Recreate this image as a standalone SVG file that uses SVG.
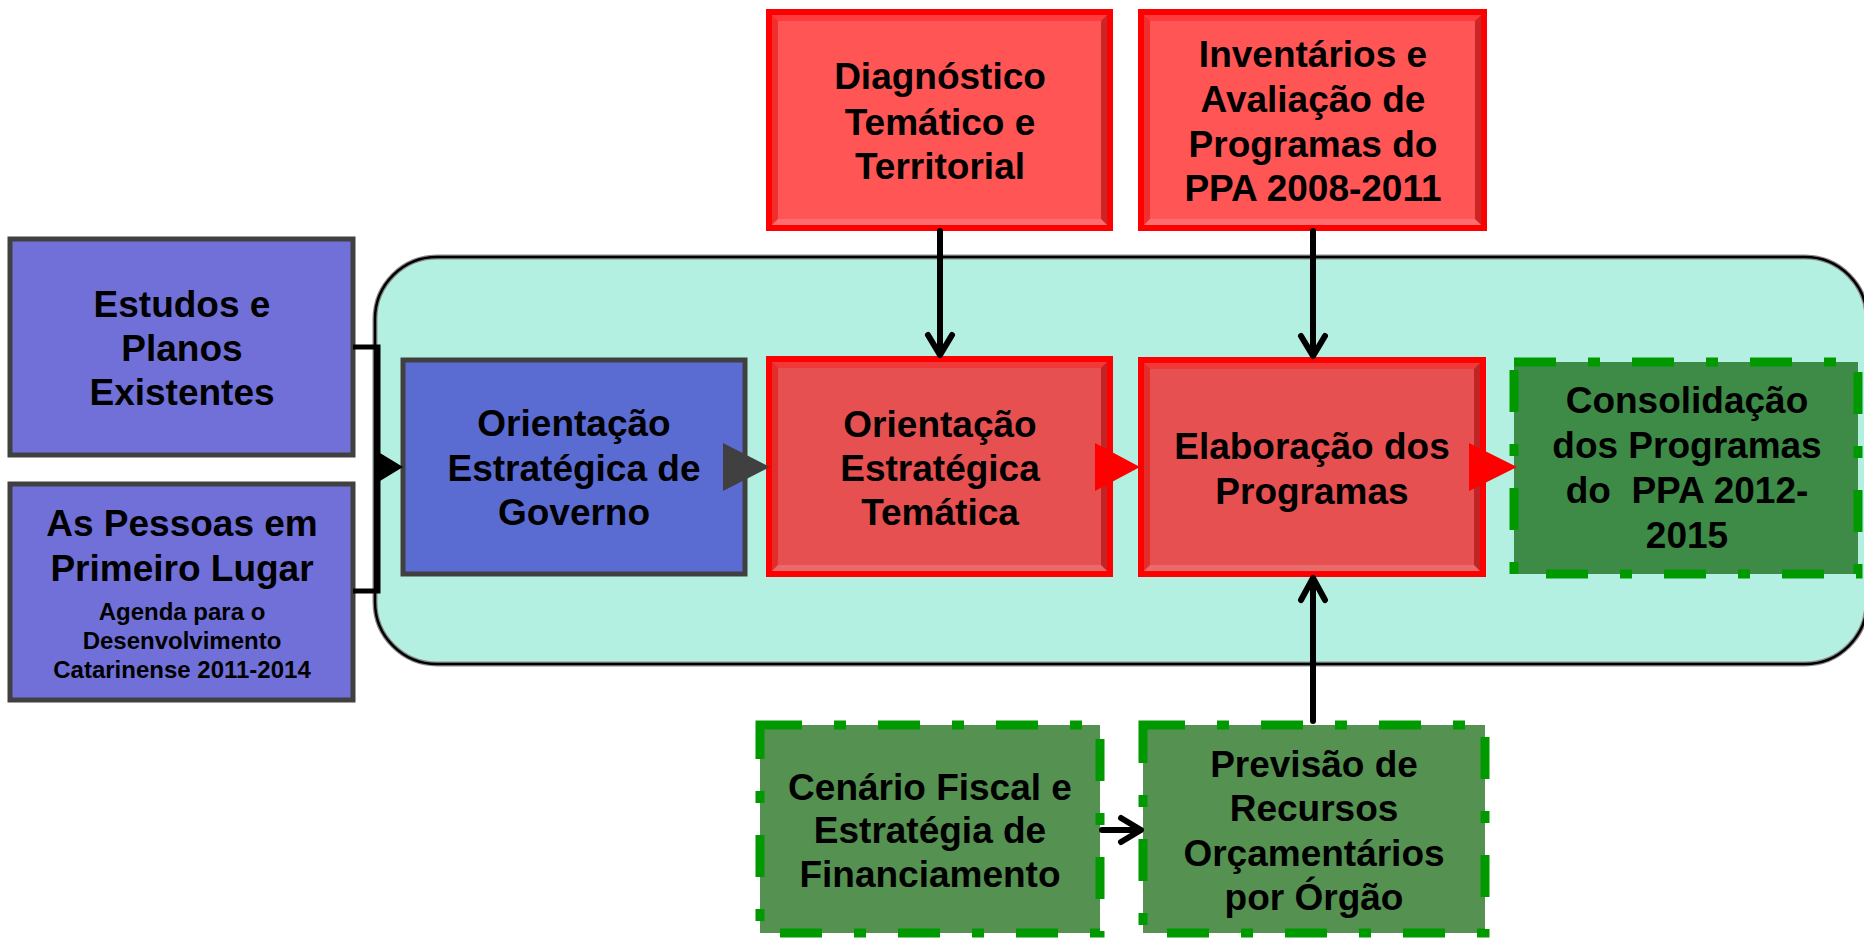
<svg xmlns="http://www.w3.org/2000/svg" xmlns:xlink="http://www.w3.org/1999/xlink" width="1864" height="939" viewBox="0 0 1864 939">
<style>
text{font-family:"Liberation Sans",Arial,sans-serif;font-weight:bold;fill:#000;text-anchor:middle}
.t{font-size:37px}
.s{font-size:24px}
.purple{fill:#7070d8;stroke:#404040;stroke-width:5}
.blue{fill:#5a6bd2;stroke:#404040;stroke-width:5}
.green{fill:#559150;stroke:#009900;stroke-width:9;stroke-dasharray:42 32 12 32}
.green2{fill:#3e8a47;stroke:#009900;stroke-width:9;stroke-dasharray:42 32 12 32}
.ln{fill:none;stroke:#000;stroke-width:6;stroke-linecap:round;stroke-linejoin:round}
.br{fill:none;stroke:#000;stroke-width:5}
</style>
<defs>
<symbol id="redbevel" viewBox="0 0 348 222" preserveAspectRatio="none">
<rect x="0" y="0" width="348" height="222" fill="#ff0000"/>
<rect x="6" y="6" width="336" height="210" fill="currentColor"/>
<polygon points="6,6 342,6 336,12 12,12" fill="#ff1a1a" opacity="0.45"/>
<polygon points="6,6 12,12 12,210 6,216" fill="#e00000" opacity="0.45"/>
<polygon points="342,6 342,216 336,210 336,12" fill="#a00000" opacity="0.55"/>
<polygon points="6,216 342,216 336,210 12,210" fill="#ffffff" opacity="0.15"/>
</symbol>
</defs>
<rect width="1864" height="939" fill="#ffffff"/>
<g id="container">
<rect x="375" y="257" width="1492" height="407" rx="62" ry="62" fill="#b4f0e1" stroke="#8a8a8a" stroke-width="5"/>
<rect x="375" y="257" width="1492" height="407" rx="62" ry="62" fill="none" stroke="#000" stroke-width="2.5"/>
</g>
<g id="estudos">
<rect class="purple" x="10" y="239" width="343" height="216"/>
<text class="t" x="182" y="317">Estudos e</text>
<text class="t" x="182" y="361">Planos</text>
<text class="t" x="182" y="405">Existentes</text>
</g>
<g id="pessoas">
<rect class="purple" x="10" y="484" width="343" height="216"/>
<text class="t" x="182" y="536">As Pessoas em</text>
<text class="t" x="182" y="581">Primeiro Lugar</text>
<text class="s" x="182" y="620">Agenda para o</text>
<text class="s" x="182" y="649">Desenvolvimento</text>
<text class="s" x="182" y="678">Catarinense 2011-2014</text>
</g>
<g id="governo">
<rect class="blue" x="403" y="360" width="342" height="214"/>
<text class="t" x="574" y="436">Orientação</text>
<text class="t" x="574" y="481">Estratégica de</text>
<text class="t" x="574" y="525">Governo</text>
</g>
<g id="diagnostico">
<use xlink:href="#redbevel" x="766" y="9" width="347" height="222" style="color:#ff5555"/>
<text class="t" x="940" y="89">Diagnóstico</text>
<text class="t" x="940" y="135">Temático e</text>
<text class="t" x="940" y="179">Territorial</text>
</g>
<g id="inventarios">
<use xlink:href="#redbevel" x="1138" y="9" width="349" height="222" style="color:#ff5555"/>
<text class="t" x="1313" y="67">Inventários e</text>
<text class="t" x="1313" y="112">Avaliação de</text>
<text class="t" x="1313" y="157">Programas do</text>
<text class="t" x="1313" y="201">PPA 2008-2011</text>
</g>
<g id="tematica">
<use xlink:href="#redbevel" x="766" y="356" width="347" height="221" style="color:#e65050"/>
<text class="t" x="940" y="437">Orientação</text>
<text class="t" x="940" y="481">Estratégica</text>
<text class="t" x="940" y="525">Temática</text>
</g>
<g id="elaboracao">
<use xlink:href="#redbevel" x="1138" y="357" width="348" height="220" style="color:#e65050"/>
<text class="t" x="1312" y="459">Elaboração dos</text>
<text class="t" x="1312" y="504">Programas</text>
</g>
<g id="consolidacao">
<rect class="green2" x="1514" y="362" width="344" height="212"/>
<text class="t" x="1687" y="413">Consolidação</text>
<text class="t" x="1687" y="458">dos Programas</text>
<text class="t" x="1687" y="503" xml:space="preserve">do  PPA 2012-</text>
<text class="t" x="1687" y="548">2015</text>
</g>
<g id="cenario">
<rect class="green" x="760" y="725" width="340" height="208"/>
<text class="t" x="930" y="800">Cenário Fiscal e</text>
<text class="t" x="930" y="843">Estratégia de</text>
<text class="t" x="930" y="887">Financiamento</text>
</g>
<g id="previsao">
<rect class="green" x="1143" y="725" width="342" height="208"/>
<text class="t" x="1314" y="777">Previsão de</text>
<text class="t" x="1314" y="821">Recursos</text>
<text class="t" x="1314" y="866">Orçamentários</text>
<text class="t" x="1314" y="910">por Órgão</text>
</g>
<g id="connectors">
<polyline class="br" points="353,347 378,347 378,591 353,591"/>
<polygon points="380,453 403,467 380,481" fill="#000"/>
<polygon points="723,443 770,467 723,491" fill="#404040"/>
<polygon points="1095,443 1140,467 1095,491" fill="#ff0000"/>
<polygon points="1469,443 1517,467 1469,491" fill="#ff0000"/>
<line class="ln" x1="940" y1="231" x2="940" y2="354"/>
<polyline class="ln" points="928,335 940,355 952,335"/>
<line class="ln" x1="1313" y1="231" x2="1313" y2="355"/>
<polyline class="ln" points="1301,336 1313,356 1325,336"/>
<line class="ln" x1="1313" y1="721" x2="1313" y2="580"/>
<polyline class="ln" points="1301,600 1313,578 1325,600"/>
<line class="ln" x1="1102" y1="830" x2="1140" y2="830"/>
<polyline class="ln" points="1121,818 1141,830 1121,842"/>
</g>
</svg>
